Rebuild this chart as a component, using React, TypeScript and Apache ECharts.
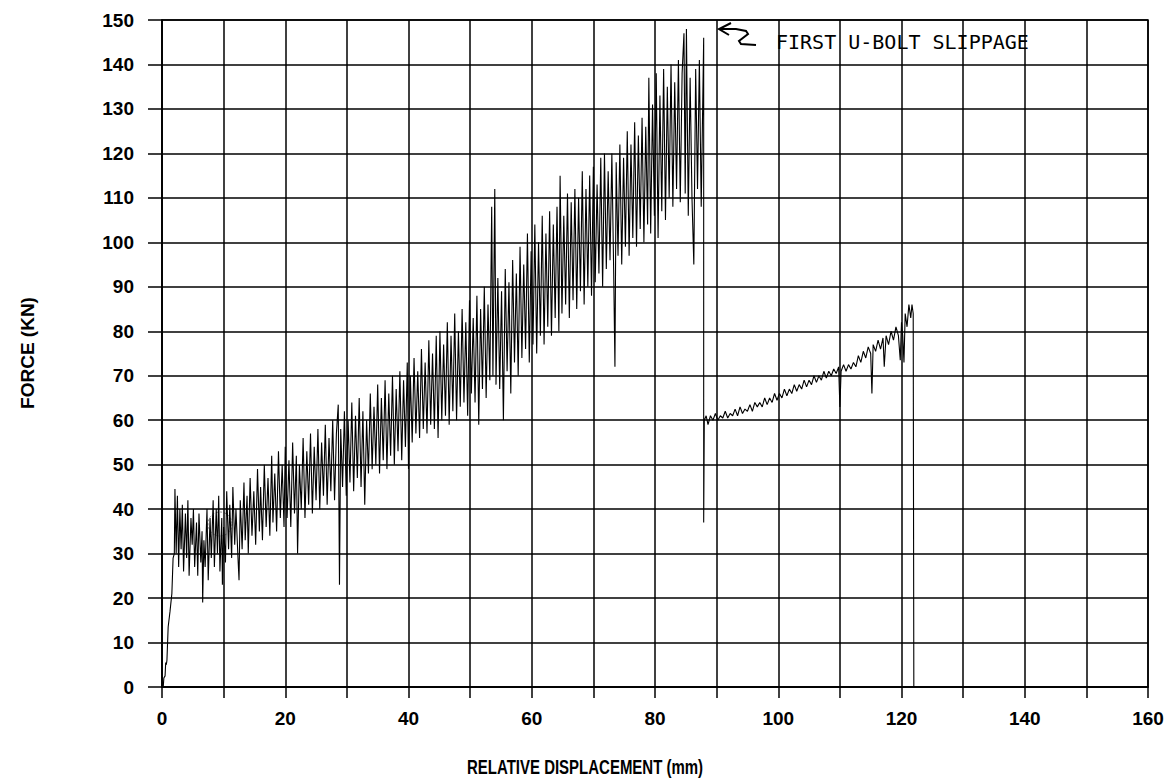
import React, { useEffect, useRef } from "react";
import * as echarts from "echarts";

// Relative displacement (mm) / force (kN) pairs
const initialRise: [number, number][] = [
  [0.2, 0], [0.3, 2], [0.5, 2.5], [0.6, 5.5], [0.7, 5], [0.8, 6], [1.0, 13.5], [1.3, 17], [1.6, 21], [1.8, 29],
  [2.0, 30], [2.1, 44.5], [2.3, 30], [2.5, 43], [2.7, 27], [2.9, 40], [3.1, 31], [3.3, 41], [3.5, 26], [3.8, 39],
  [4.0, 29], [4.2, 42], [4.4, 25], [4.7, 38], [4.9, 32], [5.1, 40], [5.3, 27], [5.6, 37], [5.8, 25], [6.0, 39],
  [6.3, 28], [6.5, 35], [6.6, 19], [6.8, 33], [7.0, 27], [7.3, 40], [7.5, 24], [7.8, 38], [8.0, 29], [8.3, 42],
  [8.5, 27], [8.8, 40], [9.0, 30], [9.2, 43], [9.4, 26], [9.7, 38], [9.8, 23], [10.0, 36], [10.3, 28], [10.5, 44],
  [10.8, 31], [11.0, 41], [11.3, 29], [11.5, 45], [11.8, 32], [12.0, 40], [12.3, 30], [12.5, 24], [12.7, 42], [13.0, 31],
  [13.3, 46], [13.5, 33], [13.8, 43], [14.0, 30], [14.3, 47], [14.6, 34], [14.9, 44], [15.2, 32], [15.5, 49], [15.8, 35],
  [16.0, 45], [16.3, 33], [16.6, 50], [16.9, 36], [17.2, 47], [17.5, 34], [17.8, 52], [18.0, 37], [18.3, 48], [18.6, 35],
  [18.9, 53], [19.2, 38], [19.5, 50], [19.8, 36],
];

const cyclesTo45: [number, number][] = [
  [20.0, 54], [20.3, 38], [20.6, 51], [20.9, 36], [21.2, 55], [21.5, 39], [21.8, 52], [22.0, 30], [22.3, 50], [22.6, 40],
  [22.9, 56], [23.2, 38], [23.5, 53], [23.8, 41], [24.1, 57], [24.4, 39], [24.7, 54], [25.0, 42], [25.3, 58], [25.6, 40],
  [25.9, 55], [26.2, 43], [26.5, 59], [26.8, 41], [27.1, 56], [27.4, 44], [27.7, 60], [28.0, 42], [28.3, 57], [28.6, 63.5],
  [28.8, 23], [29.0, 58], [29.3, 45], [29.6, 62], [29.9, 43], [30.2, 60], [30.5, 46], [30.8, 64], [31.1, 44], [31.4, 61],
  [31.7, 47], [32.0, 65], [32.3, 45], [32.6, 62], [32.9, 41], [33.2, 60], [33.5, 48], [33.8, 66], [34.1, 49], [34.4, 63],
  [34.7, 50], [35.0, 68], [35.3, 48], [35.6, 65], [35.9, 51], [36.2, 69], [36.5, 49], [36.8, 66], [37.1, 52], [37.4, 70],
  [37.7, 50], [38.0, 67], [38.3, 53], [38.6, 71], [38.9, 51], [39.2, 69], [39.5, 54], [39.8, 73], [40.0, 49], [40.3, 70],
  [40.6, 55], [40.9, 74], [41.2, 57], [41.5, 71], [41.8, 56], [42.1, 76], [42.4, 58], [42.7, 73], [43.0, 57], [43.3, 78],
  [43.6, 59], [43.9, 75], [44.2, 58], [44.5, 79], [44.8, 56],
];

const cyclesTo70: [number, number][] = [
  [45.1, 80], [45.4, 60], [45.7, 77], [46.0, 61], [46.3, 82], [46.6, 59], [46.9, 79], [47.2, 62], [47.5, 84], [47.8, 60],
  [48.1, 80], [48.4, 63], [48.7, 85], [49.0, 64], [49.3, 82], [49.6, 61], [49.9, 87], [50.2, 66], [50.5, 83], [50.8, 64],
  [51.1, 88], [51.4, 59], [51.7, 85], [52.0, 67], [52.3, 90], [52.6, 65], [52.9, 86], [53.2, 69], [53.5, 108], [53.7, 70],
  [54.0, 112], [54.2, 68], [54.5, 92], [54.8, 67], [55.1, 89], [55.4, 60], [55.7, 94], [56.0, 71], [56.3, 91], [56.6, 66],
  [56.9, 96], [57.2, 73], [57.5, 93], [57.8, 70], [58.1, 99], [58.4, 74], [58.7, 95], [59.0, 76], [59.3, 102], [59.6, 73],
  [59.9, 98], [60.2, 77], [60.5, 104], [60.8, 75], [61.1, 100], [61.4, 79], [61.7, 106], [62.0, 77], [62.3, 102], [62.6, 81],
  [62.9, 107], [63.2, 79], [63.5, 104], [63.8, 83], [64.1, 108], [64.4, 80], [64.6, 115], [64.9, 84], [65.2, 106], [65.5, 86],
  [65.8, 111], [66.1, 83], [66.4, 109], [66.7, 87], [67.0, 112], [67.3, 85], [67.6, 110], [67.9, 89], [68.2, 116], [68.5, 86],
  [68.8, 112], [69.1, 90], [69.4, 115], [69.7, 88],
];

const cyclesToSlip: [number, number][] = [
  [70.0, 117], [70.3, 91], [70.6, 113], [70.9, 93], [71.2, 119], [71.5, 90], [71.8, 120], [72.1, 94], [72.4, 116], [72.7, 96],
  [73.0, 120], [73.3, 93], [73.5, 72], [73.7, 118], [74.0, 97], [74.3, 122], [74.6, 95], [74.9, 119], [75.2, 99], [75.5, 125],
  [75.8, 97], [76.1, 122], [76.4, 101], [76.7, 127], [77.0, 99], [77.3, 124], [77.6, 103], [77.9, 128], [78.2, 100], [78.5, 126],
  [78.8, 104], [79.0, 137], [79.3, 102], [79.6, 131], [79.9, 106], [80.2, 138], [80.5, 101], [80.8, 133], [81.1, 107], [81.4, 139],
  [81.7, 105], [82.0, 135], [82.3, 110], [82.6, 140], [82.9, 108], [83.2, 136], [83.5, 112], [83.8, 141], [84.1, 109], [84.4, 138],
  [84.7, 147], [84.9, 111], [85.1, 148], [85.4, 106], [85.7, 137], [86.0, 110], [86.3, 95], [86.6, 139], [86.9, 112], [87.2, 141],
  [87.5, 108], [87.9, 146], [87.9, 37],
];

const afterSlip: [number, number][] = [
  [88.0, 60], [88.3, 61], [88.6, 59], [89.0, 61], [89.4, 60], [89.8, 61.5], [90.2, 60], [90.6, 61], [91.0, 60.5], [91.4, 62],
  [91.8, 60.5], [92.2, 61.5], [92.6, 61], [93.0, 62.5], [93.4, 61], [93.8, 63], [94.2, 61.5], [94.6, 62.5], [95.0, 62], [95.4, 63.5],
  [95.8, 62], [96.2, 64], [96.6, 63], [97.0, 64], [97.4, 63], [97.8, 65], [98.2, 63.5], [98.6, 65], [99.0, 64], [99.4, 66],
  [99.8, 64.5], [100.2, 66], [100.6, 65], [101.0, 67], [101.4, 65.5], [101.8, 67], [102.2, 66], [102.6, 68], [103.0, 66.5], [103.4, 68],
  [103.8, 67], [104.2, 69], [104.6, 67.5], [105.0, 69], [105.4, 68], [105.8, 70], [106.2, 68.5], [106.6, 70], [107.0, 69], [107.4, 71],
  [107.8, 69.5], [108.2, 71], [108.6, 70], [109.0, 71.5], [109.4, 70.5], [109.8, 72], [110.0, 63], [110.2, 71], [110.6, 72.5], [111.0, 71],
  [111.4, 72.5], [111.8, 71.5], [112.2, 73], [112.6, 72], [113.0, 74.5], [113.4, 73], [113.8, 75.5], [114.2, 74], [114.6, 76.5], [115.0, 75],
  [115.2, 66], [115.4, 77], [115.8, 75.5], [116.2, 78], [116.6, 76], [117.0, 78.5], [117.2, 72], [117.5, 79], [117.9, 77], [118.3, 80],
  [118.7, 78], [119.1, 81], [119.5, 79], [119.8, 73.5], [120.0, 82], [120.2, 79], [120.4, 73], [120.6, 84], [120.9, 81], [121.2, 86],
  [121.5, 83], [121.7, 86], [121.9, 84], [122.0, 0],
];

const xTickLabels = ["0", "20", "40", "60", "80", "100", "120", "140", "160"];
const annotationText = "FIRST U-BOLT SLIPPAGE";
const xTitle = "RELATIVE DISPLACEMENT (mm)";
const yTitle = "FORCE (KN)";

export default function App() {
  const ref = useRef<HTMLDivElement>(null);
  useEffect(() => {
    if (!ref.current) return;
    const chart = echarts.init(ref.current, null, { renderer: "svg" });
    const data = [...initialRise, ...cyclesTo45, ...cyclesTo70, ...cyclesToSlip, ...afterSlip];
    const black = "#000";
    const labelFont = {
      color: black,
      fontSize: 19,
      fontWeight: "bold" as const,
      fontFamily: "'Liberation Sans', Arial, sans-serif",
    };
    chart.setOption({
      animation: false,
      backgroundColor: "#fff",
      grid: { left: 162, right: 27, top: 20, bottom: 91, show: true, borderColor: black, borderWidth: 1.5 },
      xAxis: {
        type: "value",
        min: 0,
        max: 160,
        interval: 10,
        axisLine: { show: true, lineStyle: { color: black, width: 1.5 } },
        axisTick: { show: true, length: 11, lineStyle: { color: black, width: 1.5 } },
        splitLine: { show: true, lineStyle: { color: black, width: 1.5 } },
        axisLabel: {
          ...labelFont,
          margin: 22,
          formatter: (v: number) => (xTickLabels.includes(String(v)) ? String(v) : ""),
        },
      },
      yAxis: {
        type: "value",
        min: 0,
        max: 150,
        interval: 10,
        axisLine: { show: true, lineStyle: { color: black, width: 1.5 } },
        axisTick: { show: true, length: 14, lineStyle: { color: black, width: 1.5 } },
        splitLine: { show: true, lineStyle: { color: black, width: 1.5 } },
        axisLabel: { ...labelFont, margin: 28 },
      },
      series: [
        {
          type: "line",
          data,
          showSymbol: false,
          symbol: "none",
          lineStyle: { color: black, width: 1.1 },
          z: 3,
        },
      ],
      graphic: [
        {
          type: "text",
          left: 776,
          top: 32,
          style: {
            text: annotationText,
            fill: black,
            font: "20px 'DejaVu Sans Mono', monospace",
          },
        },
        {
          type: "polyline",
          shape: { points: [[731, 23], [719, 29], [729, 35]] },
          style: { stroke: black, lineWidth: 2, fill: "none" },
        },
        {
          type: "polyline",
          shape: { points: [[719, 29], [736, 29], [746, 31], [748, 34], [739, 41], [741, 44], [756, 45]] },
          style: { stroke: black, lineWidth: 2, fill: "none" },
        },
        {
          type: "circle",
          shape: { cx: 220, cy: 524, r: 12 },
          style: { stroke: "#888", lineWidth: 1, lineDash: [2, 2], fill: "none" },
        },
        {
          type: "text",
          x: 467,
          y: 757,
          scaleX: 0.75,
          style: {
            text: xTitle,
            fill: black,
            font: "bold 20px 'Liberation Sans', Arial, sans-serif",
          },
        },
        {
          type: "text",
          x: 27,
          y: 353,
          rotation: Math.PI / 2,
          style: {
            text: yTitle,
            fill: black,
            align: "center",
            verticalAlign: "middle",
            font: "bold 19px 'Liberation Sans', Arial, sans-serif",
          },
        },
      ],
    });
    return () => chart.dispose();
  }, []);
  return (
    <div
      ref={ref}
      style={{ position: "fixed", left: 0, top: 0, width: 1175, height: 778, background: "#fff" }}
    />
  );
}
